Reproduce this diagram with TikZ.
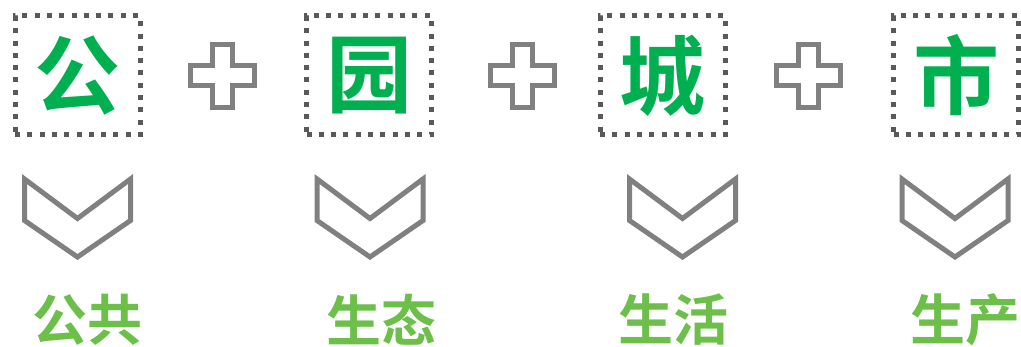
\documentclass[tikz,border=0pt]{standalone}
\usepackage{fontspec}
\newfontfamily\cjk{Noto Sans CJK SC Bold}
\definecolor{biggreen}{HTML}{00B050}
\definecolor{lblgreen}{HTML}{6CC04A}
\definecolor{dotgray}{HTML}{595959}
\definecolor{shapegray}{HTML}{808080}
\begin{document}
\begin{tikzpicture}[x=1pt,y=-1pt,
  dotbox/.style={draw=dotgray,line width=5pt,dash pattern=on 5pt off 7.3pt,minimum width=125pt,minimum height=119pt,inner sep=0pt,font=\cjk\fontsize{86}{86}\selectfont,text=biggreen},
  lbl/.style={font=\cjk\fontsize{55}{55}\selectfont,text=lblgreen,inner sep=0pt},
  shp/.style={draw=shapegray,line width=5pt,miter limit=10}]
\useasboundingbox (0,0) rectangle (1021,347);
% boxes
\node[dotbox] (b1) at (77.5,75.5) {公};
\node[dotbox] (b2) at (369,75.5) {园};
\node[dotbox] (b3) at (662.5,75.5) {城};
\node[dotbox] (b4) at (956,75.5) {市};
% plus signs
\foreach \n/\cx in {p1/222.5,p2/522.5,p3/808}{
  \draw[shp] (\cx-10,44.5) -- (\cx+10,44.5) -- (\cx+10,66) -- (\cx+32,66) -- (\cx+32,86) -- (\cx+10,86) -- (\cx+10,107.5) -- (\cx-10,107.5) -- (\cx-10,86) -- (\cx-32,86) -- (\cx-32,66) -- (\cx-10,66) -- cycle;
  \coordinate (\n) at (\cx,76);
}
% chevrons
\foreach \n/\cx in {c1/77.5,c2/370,c3/682.5,c4/955}{
  \draw[shp] (\cx-53,179) -- (\cx,218.5) -- (\cx+53,179) -- (\cx+53,220.5) -- (\cx,257) -- (\cx-53,220.5) -- cycle;
  \coordinate (\n) at (\cx,218);
}
% labels
\node[lbl] (l1) at (87.5,320) {公共};
\node[lbl] (l2) at (381,320) {生态};
\node[lbl] (l3) at (673.5,320) {生活};
\node[lbl] (l4) at (965,320) {生产};
\end{tikzpicture}
\end{document}
